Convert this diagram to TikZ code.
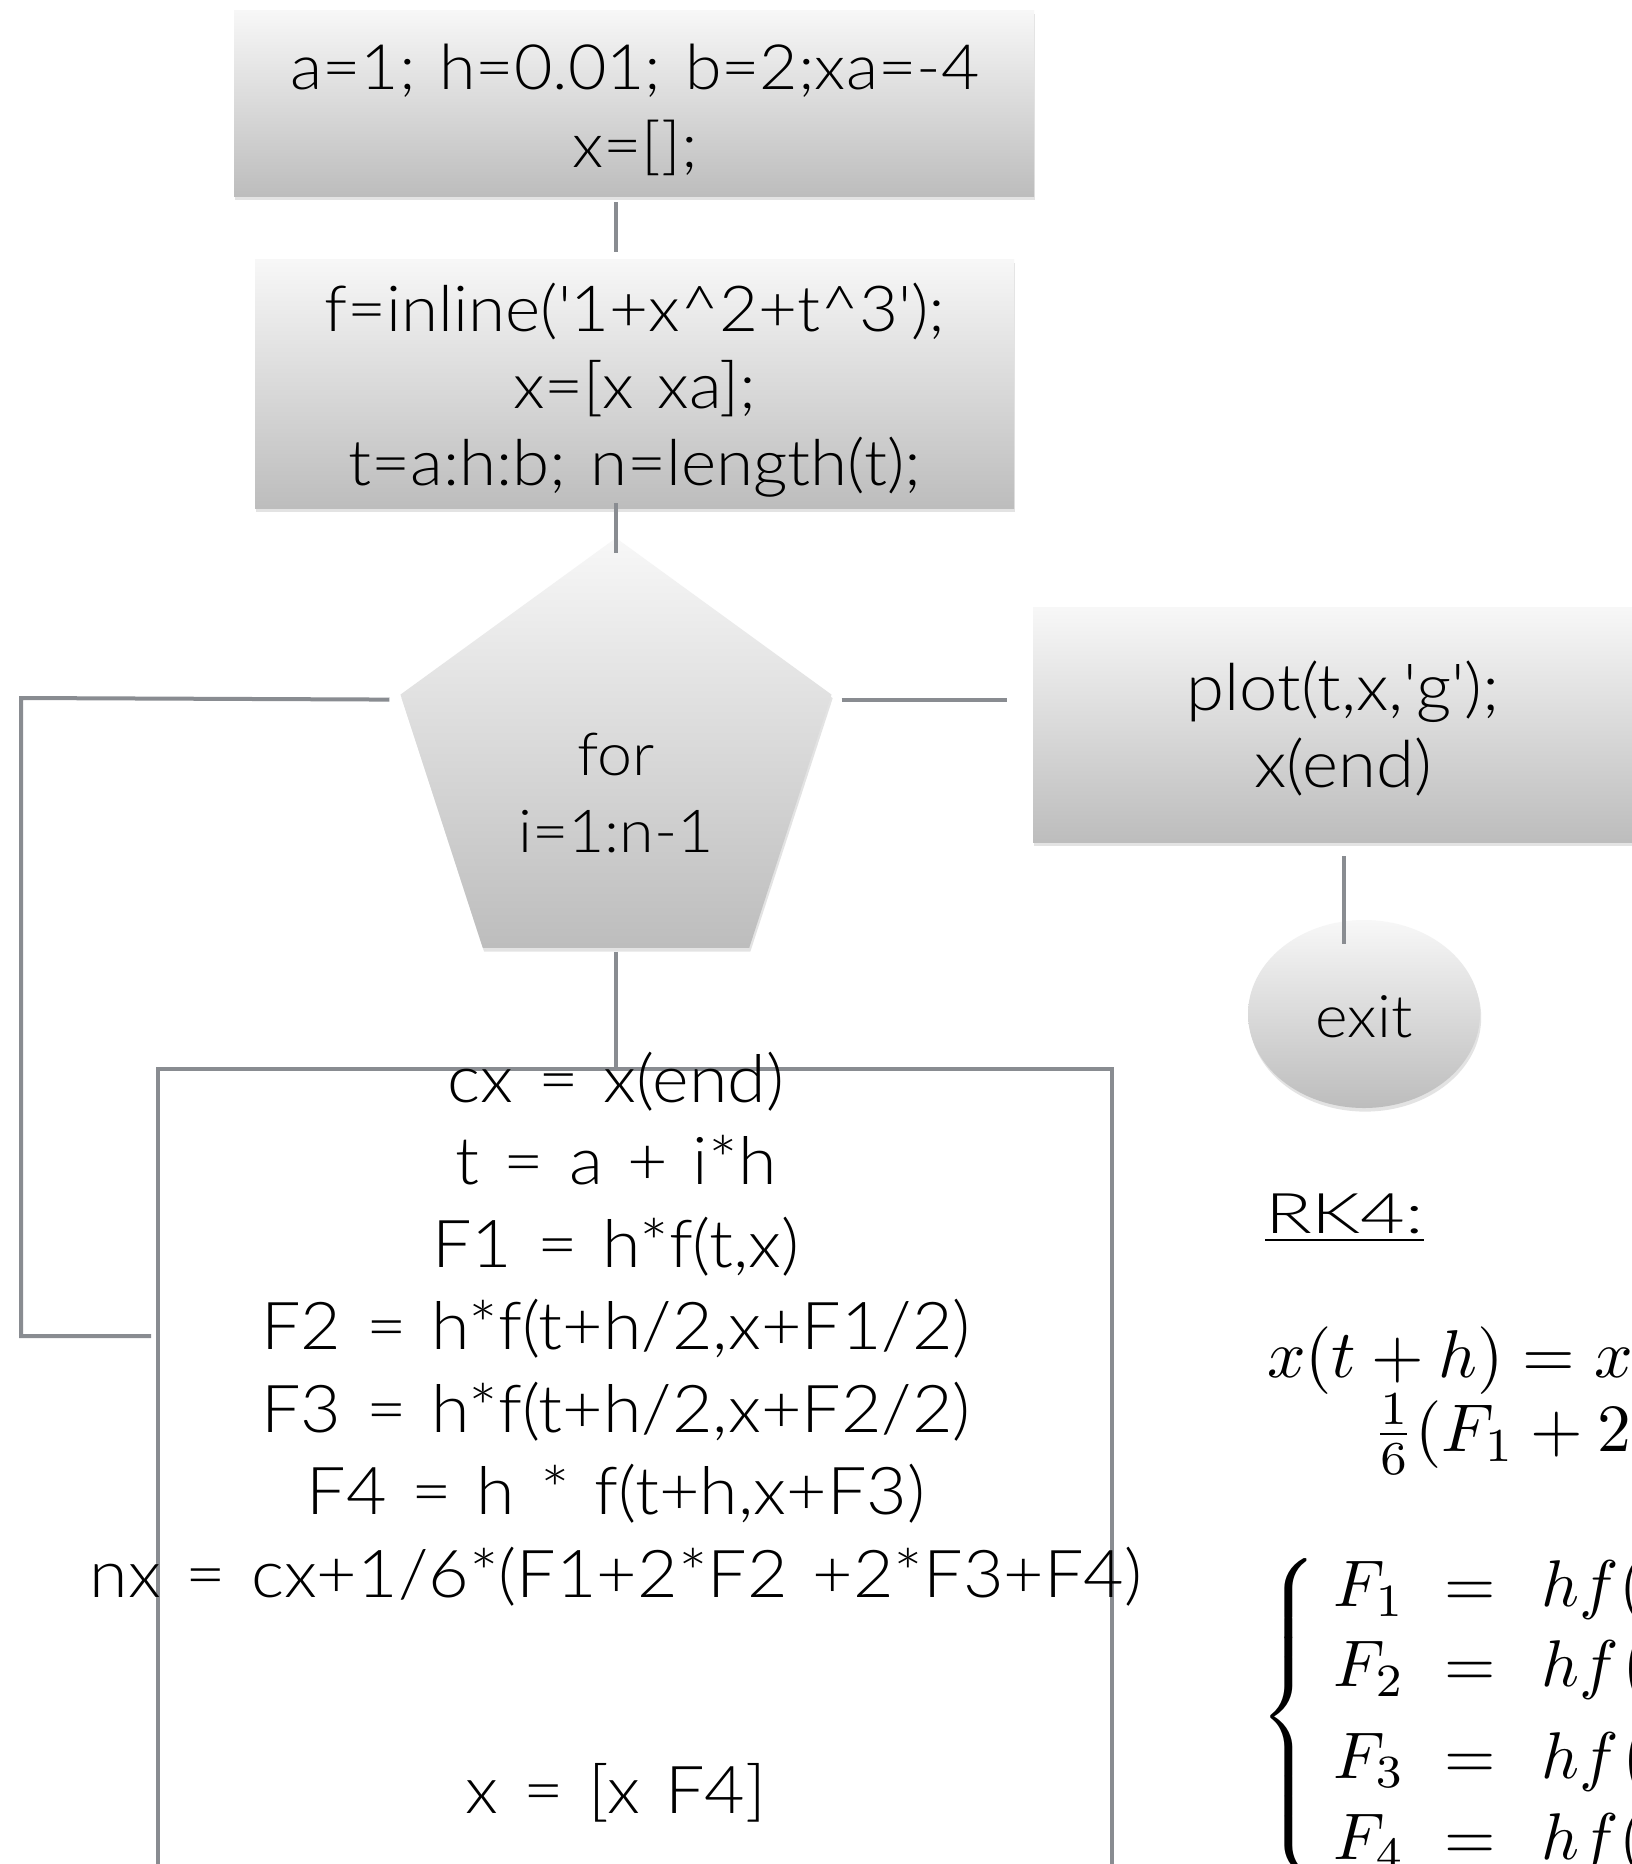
\RequirePackage{fix-cm}
\documentclass[tikz,border=0pt]{standalone}
\usepackage{amsmath}
\usepackage[no-math]{fontspec}
\setmainfont{Lato Light}[FakeStretch=1.06, WordSpace=1.3]
\newfontfamily\rkfont{Lato Light}
\usetikzlibrary{shapes.geometric,shadows,calc}
\definecolor{linegray}{HTML}{898C91}

% text sizes used in the flowchart
\newcommand\initsize{\fontsize{31.25}{39}\selectfont}
\newcommand\setupsize{\fontsize{31.75}{38.5}\selectfont}
\newcommand\plotsize{\fontsize{32.5}{38.5}\selectfont}
\newcommand\loopsize{\fontsize{29.6}{38.5}\selectfont}
\newcommand\exitsize{\fontsize{29.4}{36}\selectfont}
\newcommand\bodysize{\fontsize{33}{41.25}\selectfont}
\newcommand\rksize{\fontsize{28}{34}\selectfont}
% formulas are set at 10pt and enlarged
\newcommand\formula[2][3.3]{\fontsize{10}{12}\selectfont\scalebox{#1}{#2}}
\newcommand\lines[1]{\begin{tabular}[t]{@{}c@{}}#1\end{tabular}}

\begin{document}
\begin{tikzpicture}[x=0.5pt,y=-0.5pt,
  shadedshape/.style={draw=none, top color=black!3, bottom color=black!26,
    drop shadow={shadow xshift=0.6pt, shadow yshift=-1.8pt, opacity=0.22},
    inner sep=0pt, outer sep=0pt},
  flowbox/.style={shadedshape, rectangle},
  txt/.style={inner sep=0pt, outer sep=0pt, anchor=base, text=black},
  conn/.style={draw=linegray, line width=2pt},
  frame/.style={draw=linegray, line width=2pt, fill=none, rectangle, inner sep=0pt}]

\useasboundingbox (0,0) rectangle (1632,1864);
\clip (0,0) rectangle (1632,1864);
\fill[white] (0,0) rectangle (1632,1864);

% ---- shapes ----
\node[flowbox, minimum width=400pt, minimum height=93pt] (init) at (634,103) {};
\node[flowbox, minimum width=379.5pt, minimum height=124.5pt] (setup) at (634.5,383.5) {};
\node[shadedshape, regular polygon, regular polygon sides=5, minimum size=226.6pt] (loop) at (616,764.6) {};
\node[flowbox, minimum width=310pt, minimum height=117.5pt] (plot) at (1343,724.5) {};
\node[shadedshape, ellipse, minimum width=116pt, minimum height=94pt] (exit) at (1364,1014) {};
\node[frame, minimum width=477pt, minimum height=440pt] (body) at (635,1509) {};

% ---- texts ----
\node[txt] (initT) at (635,89) {\initsize\lines{a=1; h=0.01; b=2;xa=-4\\ x=[];}};
\node[txt] (setupT) at (635,331) {\setupsize\lines{f=inline(\textquotesingle 1+x\textasciicircum 2+t\textasciicircum 3\textquotesingle);\\ x=[x xa];\\ t=a:h:b; n=length(t);}};
\node[txt] (loopT) at (616,775) {\loopsize\lines{for\\ i=1:n-1}};
\node[txt] (plotT) at (1343,710) {\plotsize\lines{plot(t,x,\textquotesingle g\textquotesingle);\\ x(end)}};
\node[txt] (exitT) at (1364,1037) {\exitsize exit};
\node[txt] (bodyT) at (616,1102) {\bodysize\lines{cx = x(end)\\ t = a + i*h\\ F1 = h*f(t,x)\\ F2 = h*f(t+h/2,x+F1/2)\\ F3 = h*f(t+h/2,x+F2/2)\\ F4 = h * f(t+h,x+F3)\\ nx = cx+1/6*(F1+2*F2 +2*F3+F4)\\[67pt] x = [x F4]}};

% ---- RK4 formulas ----
\node[txt, anchor=base west] (rk) at (1265,1233) {\rksize\scalebox{1.38}[1]{$\underline{\hbox{\rkfont RK4:}}$}};
\node[txt, anchor=base west] (rkA) at (1267,1377) {\formula[3.38]{$x(t+h) = x(t) +$}};
\node[txt, anchor=base west] (rkB) at (1372,1451) {\formula[3.38]{$\frac{1}{6}(F_1+2F_2+2F_3+F_4)$}};
\node[txt, anchor=west] (rkC) at (1259,1717) {\formula{$\left\{\begin{array}{@{\hspace{2.33pt}}r@{\hspace{5.94pt}}c@{\hspace{7pt}}l@{}}
  F_1 & = & hf(t,x)\\
  F_2 & = & hf\bigl(t+\frac{1}{2}h,\ x+\frac{1}{2}F_1\bigr)\\[1.8pt]
  F_3 & = & hf\bigl(t+\frac{1}{2}h,\ x+\frac{1}{2}F_2\bigr)\\[0.3pt]
  F_4 & = & hf(t+h,\ x+F_3)
\end{array}\right.$}};

% ---- connectors ----
\coordinate (turnTop) at (21,698);
\coordinate (turnBot) at (21,1336);
\draw[conn] ($(init.south -| loop.north)+(0,6)$) -- ($(setup.north -| loop.north)+(0,-7)$);
\draw[conn] ($(setup.south -| loop.north)+(0,-5)$) -- ($(loop.north)+(0,15)$);
\draw[conn] ($(loop.south)+(0,4)$) -- (loop.south |- body.north);
\draw[conn] ($(loop.corner 2)+(-11,5)$) -- (turnTop) -- (turnBot) -- ($(body.west |- turnBot)+(-5,0)$);
\draw[conn] ($(loop.corner 5)+(10,5)$) -- ($(loop.corner 5 -| plot.west)+(-26,5)$);
\draw[conn] ($(plot.south)+(1,14)$) -- ($(exit.north -| plot.south)+(1,24)$);
\end{tikzpicture}
\end{document}
